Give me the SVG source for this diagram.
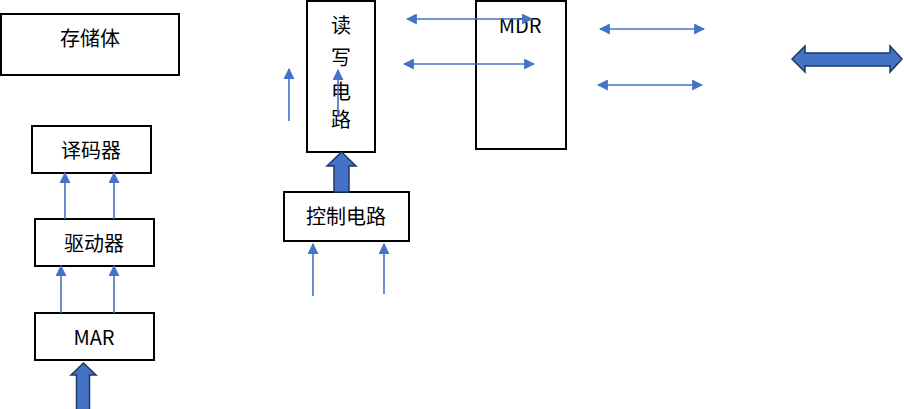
<svg xmlns="http://www.w3.org/2000/svg" width="904" height="409" viewBox="0 0 904 409">
<defs>
<marker id="ah" viewBox="0 0 10 10" refX="9" refY="5" markerWidth="11" markerHeight="11" markerUnits="userSpaceOnUse" orient="auto-start-reverse">
<path d="M0,0 L10,5 L0,10 z" fill="#4472C4"/>
</marker>
</defs>
<style>
.box{fill:#fff;stroke:#000;stroke-width:2}
.t{font-family:"Noto Sans CJK SC","Noto Sans",sans-serif;font-size:20px;fill:#000;text-anchor:middle;dominant-baseline:central}
.ln{stroke:#4472C4;stroke-width:1.6;fill:none}
.fat{fill:#4472C4;stroke:#203864;stroke-width:1.5}
</style>
<g id="storage"><rect class="box" x="1" y="14" width="178" height="61"/><text class="t" x="90" y="37">存储体</text></g>
<g id="decoder"><rect class="box" x="32" y="126" width="119" height="47"/><text class="t" x="91" y="149">译码器</text></g>
<g id="driver"><rect class="box" x="35" y="219" width="119" height="47"/><text class="t" x="94" y="242">驱动器</text></g>
<g id="mar"><rect class="box" x="35" y="313" width="119" height="47"/><text class="t" x="94" y="336">MAR</text></g>
<g id="rw"><rect class="box" x="307" y="1" width="68" height="151"/>
<text class="t" x="341" y="24">读</text><text class="t" x="341" y="56">写</text><text class="t" x="341" y="90">电</text><text class="t" x="341" y="118">路</text></g>
<g id="ctrl"><rect class="box" x="284" y="192" width="125" height="49"/><text class="t" x="346" y="215">控制电路</text></g>
<g id="mdr"><rect class="box" x="476" y="1" width="90" height="148"/><text class="t" x="520" y="24">MDR</text></g>
<g id="connectors">
<line class="ln" x1="65" y1="219" x2="65" y2="173" marker-end="url(#ah)"/>
<line class="ln" x1="114" y1="219" x2="114" y2="173" marker-end="url(#ah)"/>
<line class="ln" x1="61" y1="313" x2="61" y2="266" marker-end="url(#ah)"/>
<line class="ln" x1="114" y1="313" x2="114" y2="266" marker-end="url(#ah)"/>
<line class="ln" x1="289" y1="121" x2="289" y2="69" marker-end="url(#ah)"/>
<line class="ln" x1="338" y1="117" x2="338" y2="70" marker-end="url(#ah)"/>
<line class="ln" x1="313" y1="296" x2="313" y2="244" marker-end="url(#ah)"/>
<line class="ln" x1="384" y1="294" x2="384" y2="244" marker-end="url(#ah)"/>
<line class="ln" x1="407" y1="19" x2="532" y2="19" marker-start="url(#ah)" marker-end="url(#ah)"/>
<line class="ln" x1="404" y1="64" x2="534" y2="64" marker-start="url(#ah)" marker-end="url(#ah)"/>
<line class="ln" x1="600" y1="29" x2="704" y2="29" marker-start="url(#ah)" marker-end="url(#ah)"/>
<line class="ln" x1="598" y1="85" x2="702" y2="85" marker-start="url(#ah)" marker-end="url(#ah)"/>
<path class="fat" d="M83.5,363 L96,375 L89.5,375 L89.5,410 L76.5,410 L76.5,375 L71,375 Z"/>
<path class="fat" d="M341.5,152 L356,166 L349,166 L349,192 L334,192 L334,166 L327,166 Z"/>
<path class="fat" d="M792,59 L805,46 L805,53 L890,53 L890,46 L902,59 L890,72 L890,66 L805,66 L805,72 Z"/>
</g>
</svg>
